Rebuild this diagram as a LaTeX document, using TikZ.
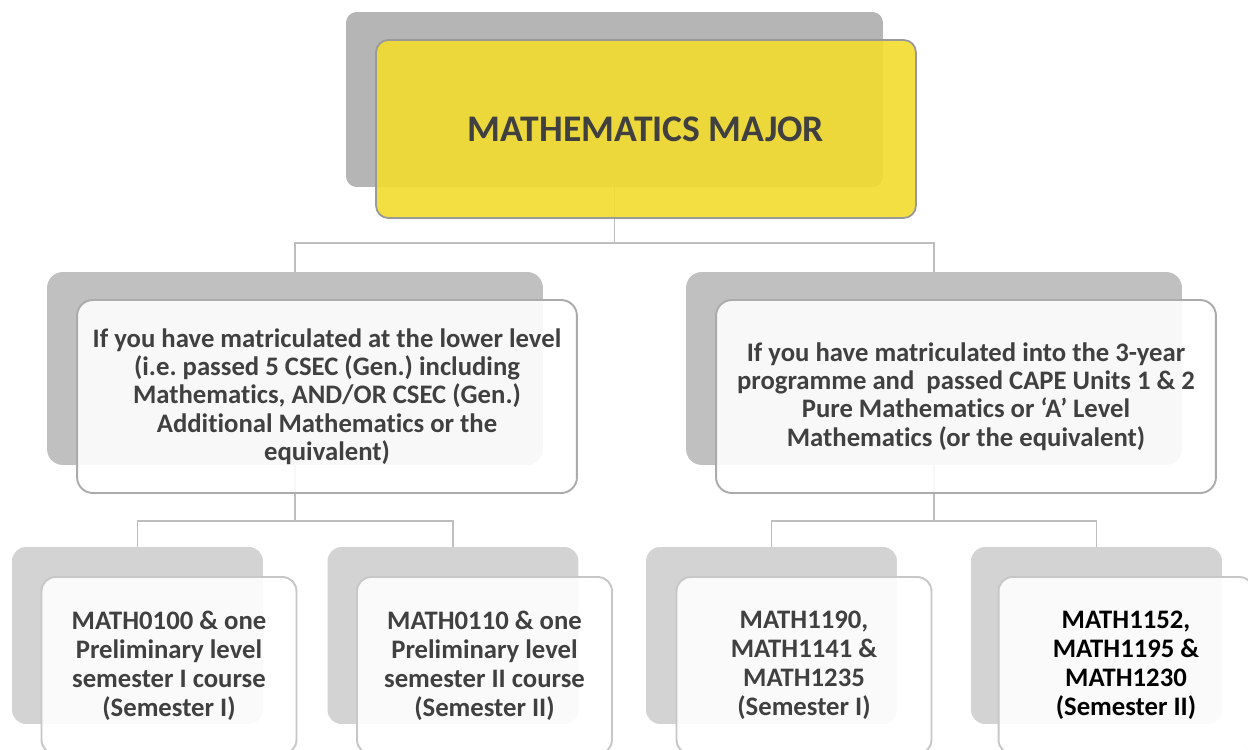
\documentclass[tikz,border=0pt]{standalone}
\usepackage{fontspec}
\setmainfont{Carlito}[RawFeature={-liga;-dlig;-clig;-calt}]
\frenchspacing
\usetikzlibrary{calc}
\definecolor{txt-gray}{RGB}{64,64,64}
\definecolor{top-gray}{RGB}{181,181,181}
\definecolor{mid-gray}{RGB}{192,192,192}
\definecolor{low-gray}{RGB}{211,211,211}
\definecolor{lt-yellow}{RGB}{243,220,45}
\definecolor{line-gray}{RGB}{190,190,190}
\tikzset{
	backbox/.style={rectangle,inner sep=0pt,fill=#1},
	frontbox/.style={rectangle,inner sep=0pt,fill=white,fill opacity=.9,text opacity=1,
		align=center,text=txt-gray,font=\bfseries},
	conn/.style={line-gray,line width=1.1pt},
}
\begin{document}
\begin{tikzpicture}[x=0.02cm,y=-0.02cm]
	\useasboundingbox (0,0) rectangle (1248,750);
	\clip (0,0) rectangle (1248,750);

	%back boxes
	\node[backbox=top-gray,rounded corners=6pt,minimum width=10.74cm,minimum height=3.5cm] (topback) at (614.5,99.5) {};
	\node[backbox=mid-gray,rounded corners=9pt,minimum width=9.92cm,minimum height=3.86cm] (lback) at (295,368.5) {};
	\node[backbox=mid-gray,rounded corners=9pt,minimum width=9.92cm,minimum height=3.86cm] (rback) at (934,368.5) {};
	\foreach \x [count=\i] in {137.5,453,771.5,1096.5}{
		\node[backbox=low-gray,rounded corners=8pt,minimum width=5.02cm,minimum height=3.54cm] (b\i) at (\x,635.5) {};
	}

	%connectors
	\coordinate (hubA) at (614.5,243);
	\coordinate (hubB) at (295,521);
	\coordinate (hubC) at (934,521);
	\draw[conn] (topback.south) -- (hubA) -| (lback.north);
	\draw[conn] (hubA) -| (rback.north);
	\draw[conn] (lback.south) -- (hubB) -| (b1.north);
	\draw[conn] (hubB) -| (b2.north);
	\draw[conn] (rback.south) -- (hubC) -| (b3.north);
	\draw[conn] (hubC) -| (b4.north);

	%front boxes
	\node[frontbox,fill=lt-yellow,draw=black!40,line width=1pt,rounded corners=7pt,
		minimum width=10.8cm,minimum height=3.56cm,font=\bfseries\fontsize{21.4}{25}\selectfont] (top) at (646,129)
		{MATHEMATICS MAJOR};
	\node[frontbox,draw=black!33,line width=1.1pt,rounded corners=9pt,minimum width=10cm,minimum height=3.86cm,
		font=\bfseries\fontsize{15.2}{16.1}\selectfont] (lower) at (327,396.5)
		{If you have matriculated at the lower level\\(i.e. passed 5 CSEC (Gen.) including\\Mathematics, AND/OR CSEC (Gen.)\\Additional Mathematics or the\\equivalent)};
	\node[frontbox,draw=black!33,line width=1.1pt,rounded corners=9pt,minimum width=10cm,minimum height=3.86cm,
		font=\bfseries\fontsize{15.2}{16.1}\selectfont] (upper) at (966,396.5)
		{If you have matriculated into the 3-year\\programme and\ \ passed CAPE Units 1 \& 2\\Pure Mathematics or `A' Level\\Mathematics (or the equivalent)};

	%course boxes
	\tikzset{course/.style={frontbox,draw=black!22,line width=1.1pt,rounded corners=8pt,minimum width=5.1cm,
		minimum height=3.54cm,font=\bfseries\fontsize{15.2}{16.5}\selectfont}}
	\node[course] (c1) at (169,665.5) {MATH0100 \& one\\Preliminary level\\semester I course\\(Semester I)};
	\node[course] (c2) at (484.5,665.5) {MATH0110 \& one\\Preliminary level\\semester II course\\(Semester II)};
	\node[course] (c3) at (804,665.5) {MATH1190,\\MATH1141 \&\\MATH1235\\(Semester I)};
	\node[course,text=black] (c4) at (1126,665.5) {MATH1152,\\MATH1195 \&\\MATH1230\\(Semester II)};
\end{tikzpicture}
\end{document}
